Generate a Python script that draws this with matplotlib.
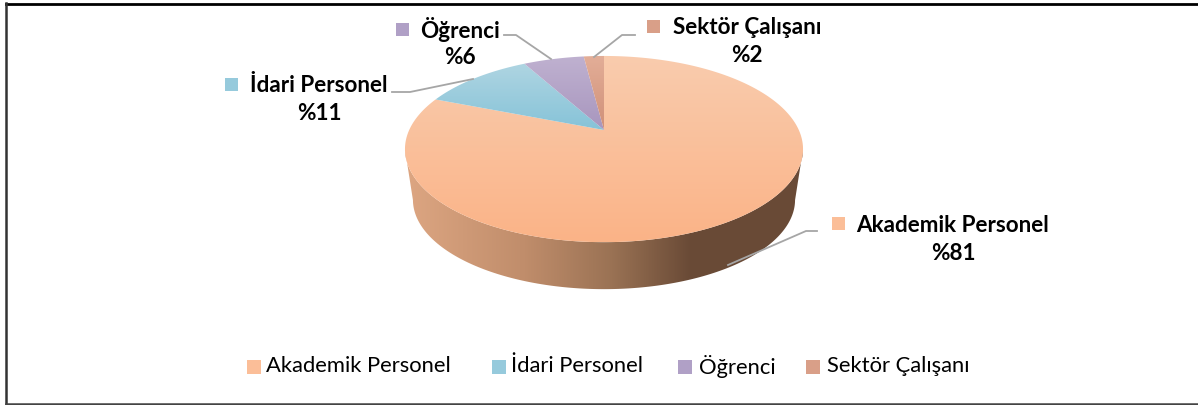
#!/usr/bin/env python3
"""Perspective pie chart of personnel shares, drawn in pixel coordinates"""

import numpy as np
import matplotlib
matplotlib.use('Agg')
import matplotlib.pyplot as plt
from matplotlib.colors import LinearSegmentedColormap
from matplotlib.patches import Polygon, Rectangle

plt.rcParams['font.family'] = ['Lato', 'DejaVu Sans']

# Data
categories = ['Akademik Personel', 'İdari Personel', 'Öğrenci', 'Sektör Çalışanı']
shares = [81, 11, 6, 2]
share_labels = ['%81', '%11', '%6', '%2']

# Top colour, bottom colour, key colour
top_colors = ['#F9CCAE', '#AFD5E2', '#BFB1D0', '#E3AE98']
bottom_colors = ['#FBB387', '#86C3D8', '#A896BE', '#D09078']
key_colors = ['#FBBE98', '#96CADC', '#B0A0C6', '#D99F88']

# Label placement (text centre x, name y, value y, key x, key y)
label_x = [953, 319, 460, 747]
name_y = [225, 86, 29, 27]
value_y = [254, 114, 58, 56]
key_x = [838, 231, 402, 653]
key_y = [223, 84, 29, 26]

# Leader lines
leaders = [
    [(817, 231), (806, 231), (728, 265)],
    [(392, 92), (410, 92), (473, 79)],
    [(504, 35), (516, 35), (551, 59)],
    [(635, 35), (622, 35), (594, 57)],
]

# Legend along the bottom
legend_key_x = [247, 492, 678, 806]
legend_text_x = [266, 511, 699, 827]

W, H = 1198, 405
CX, APEX_Y = 604, 130
A, B, P = 194.8, 89.2, 0.2048


def project(theta):
    """Clockwise angle from 12 o'clock on the unit disc -> picture pixels"""
    u = np.sin(theta)
    v = np.cos(theta)
    w = 1 + P * v
    return CX + A * u / w, APEX_Y - B * v / w


def gradient_patch(ax, points, colors, horizontal=False, extent=None):
    cmap = LinearSegmentedColormap.from_list('g', colors)
    grad = np.linspace(0, 1, 256)
    grad = grad[None, :] if horizontal else grad[:, None]
    im = ax.imshow(grad, cmap=cmap, extent=extent, aspect='auto', zorder=2, vmin=0, vmax=1, origin='lower')
    patch = Polygon(points, closed=True, transform=ax.transData, fc='none', ec='none')
    ax.add_patch(patch)
    im.set_clip_path(patch)


fig = plt.figure(figsize=(W / 100, H / 100), dpi=100, facecolor='white')
ax = fig.add_axes([0, 0, 1, 1])
ax.set_axis_off()

# Side wall first
t = np.linspace(0, 2 * np.pi, 721)
rim_x, rim_y = project(t)
low_x = CX + (rim_x - CX) * 0.96
low_y = (rim_y - 149) * 0.96 + 199.7
mask = rim_y >= 149
order = np.argsort(rim_x[mask])
wall = np.vstack([
    np.column_stack([rim_x[mask][order], rim_y[mask][order]]),
    np.column_stack([low_x[mask][order][::-1], low_y[mask][order][::-1]]),
])
wall_colors = [(0, '#DDA682'), (0.3, '#C08D6B'), (0.52, '#9A7254'),
               (0.72, '#694A36'), (1, '#6A4B37')]
gradient_patch(ax, wall, wall_colors, horizontal=True, extent=(405, 803, 140, 300))

# Top slices, clockwise from 12 o'clock
edges = np.cumsum([0] + shares) / sum(shares) * 2 * np.pi
for i in range(len(shares)):
    th = np.linspace(edges[i], edges[i + 1], 300)
    x, y = project(th)
    pts = np.vstack([[CX, APEX_Y], np.column_stack([x, y])])
    y0 = min(y.min(), APEX_Y)
    y1 = max(y.max(), APEX_Y)
    gradient_patch(ax, pts, [top_colors[i], bottom_colors[i]],
                   extent=(400, 810, y0, y1))

# Labels, keys and leaders
for i, cat in enumerate(categories):
    ax.text(label_x[i], name_y[i], cat, ha='center', va='center', fontsize=16.2,
            fontweight='bold', color='black', zorder=5)
    ax.text(label_x[i], value_y[i], share_labels[i], ha='center', va='center', fontsize=16.2,
            fontweight='bold', color='black', zorder=5)
    ax.add_patch(Rectangle((key_x[i] - 6.5, key_y[i] - 6.5), 13, 13, fc=key_colors[i], ec='none', zorder=5))
    lx, ly = zip(*leaders[i])
    ax.plot(lx, ly, color='#A6A6A6', lw=1.3, zorder=4)

# Legend
for i, cat in enumerate(categories):
    ax.add_patch(Rectangle((legend_key_x[i], 360), 14, 14, fc=key_colors[i], ec='none', zorder=5))
    ax.text(legend_text_x[i], 366, cat, ha='left', va='center', fontsize=15.8, color='black', zorder=5)

# Frame: top, left and bottom only
ax.plot([6, W], [3.5, 3.5], color='black', lw=2, zorder=6)
ax.plot([6, 6], [3, H], color='#333333', lw=1.8, zorder=6)
ax.plot([6, W], [403.8, 403.8], color='#444444', lw=1.8, zorder=6)

ax.set_xlim(0, W)
ax.set_ylim(H, 0)

fig.savefig('out.png', dpi=100, facecolor='white')
